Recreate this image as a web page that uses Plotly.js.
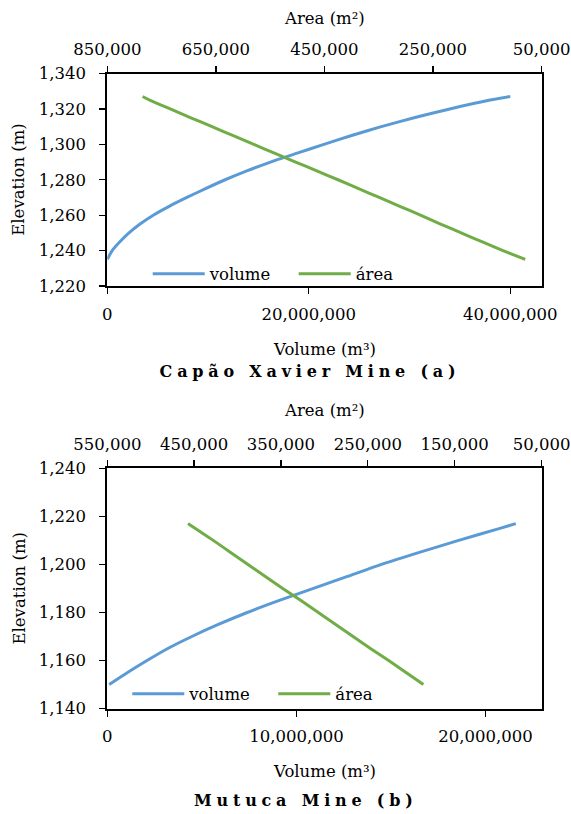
<!DOCTYPE html>
<html>
<head>
<meta charset="utf-8">
<script src="https://cdn.plot.ly/plotly-3.0.1.min.js"></script>
<style>
  html, body { margin: 0; padding: 0; background: #fff; }
  #chart { width: 571px; height: 814px; }
</style>
</head>
<body>
<div id="chart"></div>
<script>
// ---- Capão Xavier Mine (a) ----
const capaoElevation = [1235, 1240, 1245, 1250, 1255, 1260, 1265, 1270, 1275, 1280, 1285, 1290, 1295, 1300, 1305, 1310, 1315, 1320, 1325, 1327];
const capaoVolume = [0, 480000, 1250000, 2150000, 3250000, 4560000, 6140000, 7900000, 9750000, 11700000, 13850000, 16200000, 18850000, 21500000, 24250000, 27200000, 30450000, 34000000, 38000000, 40000000];
const capaoArea = [80000, 121000, 160000, 198000, 236000, 273000, 311000, 349000, 387000, 425000, 464000, 503000, 542000, 580000, 619000, 657000, 696000, 734000, 772000, 785000];

// ---- Mutuca Mine (b) ----
const mutucaElevation = [1150, 1155, 1160, 1165, 1170, 1175, 1180, 1185, 1190, 1195, 1200, 1205, 1210, 1215, 1217];
const mutucaVolume = [100000, 1070000, 2100000, 3200000, 4470000, 5870000, 7400000, 9100000, 10900000, 12700000, 14500000, 16500000, 18580000, 20760000, 21600000];
const mutucaArea = [186000, 206000, 226000, 247000, 267000, 287000, 307000, 327000, 348000, 368000, 388000, 408000, 428000, 449000, 457000];

const seriesNames = ["volume", "área"];
const panelTitles = ["Capão Xavier Mine (a)", "Mutuca Mine (b)"];
const xTitleArea = "Area (m²)";
const xTitleVolume = "Volume (m³)";
const yTitle = "Elevation (m)";

const W = 571, H = 814;
const FONT = "DejaVu Serif";
const FS = 16.5;
const BLUE = "#5B9BD5", GREEN = "#70AD47";

const px = v => v / W;
const py = v => 1 - v / H;

const lineStyle = c => ({color: c, width: 3, shape: "spline", smoothing: 0.6});

const traces = [
  {x: capaoVolume, y: capaoElevation, name: seriesNames[0], type: "scatter", mode: "lines",
   line: lineStyle(BLUE), xaxis: "x", yaxis: "y", legend: "legend"},
  {x: capaoArea, y: capaoElevation, name: seriesNames[1], type: "scatter", mode: "lines",
   line: lineStyle(GREEN), xaxis: "x2", yaxis: "y", legend: "legend"},
  {x: mutucaVolume, y: mutucaElevation, name: seriesNames[0], type: "scatter", mode: "lines",
   line: lineStyle(BLUE), xaxis: "x3", yaxis: "y2", legend: "legend2"},
  {x: mutucaArea, y: mutucaElevation, name: seriesNames[1], type: "scatter", mode: "lines",
   line: lineStyle(GREEN), xaxis: "x4", yaxis: "y2", legend: "legend2"}
];

const xd = [px(107.3), px(541.5)];
const yd1 = [py(286), py(73.5)];
const yd2 = [py(708.6), py(468.3)];

const axBase = {
  showgrid: false, zeroline: false, showline: true, linecolor: "#000", linewidth: 2,
  ticks: "outside", ticklen: 6, tickwidth: 1.3, tickcolor: "#000",
  tickfont: {family: FONT, size: FS, color: "#000"}, tickformat: ",", automargin: false,
  fixedrange: true
};

const legBase = {
  orientation: "h", xanchor: "left", yanchor: "middle", bgcolor: "rgba(0,0,0,0)",
  borderwidth: 0, font: {family: FONT, size: FS, color: "#000"},
  itemwidth: 52, entrywidth: 79, entrywidthmode: "pixels", tracegroupgap: 0
};

const ann = (text, x, y, opts = {}) => Object.assign({
  text, x, y, xref: "paper", yref: "paper", showarrow: false,
  xanchor: "center", yanchor: "middle",
  font: {family: FONT, size: FS, color: "#000"}
}, opts);

const titleFont = {family: FONT, size: 16, color: "#000", weight: "bold"};

const layout = {
  width: W, height: H,
  margin: {l: 0, r: 0, t: 0, b: 0, pad: 0},
  paper_bgcolor: "#fff", plot_bgcolor: "#fff",
  showlegend: true,
  xaxis: Object.assign({}, axBase, {domain: xd, anchor: "y", range: [0, 43.1e6], tick0: 0, dtick: 20e6, ticklabelstandoff: 6}),
  xaxis2: Object.assign({}, axBase, {overlaying: "x", anchor: "y", side: "top", range: [850000, 50000], tick0: 50000, dtick: 200000, ticklabelstandoff: 4}),
  yaxis: Object.assign({}, axBase, {domain: yd1, anchor: "x", range: [1220, 1340], tick0: 1220, dtick: 20, mirror: true, ticklabelstandoff: 10}),
  xaxis3: Object.assign({}, axBase, {domain: xd, anchor: "y2", range: [0, 22.96e6], tick0: 0, dtick: 10e6, ticklabelstandoff: 6}),
  xaxis4: Object.assign({}, axBase, {overlaying: "x3", anchor: "y2", side: "top", range: [550000, 50000], tick0: 50000, dtick: 100000, ticklabelstandoff: 4}),
  yaxis2: Object.assign({}, axBase, {domain: yd2, anchor: "x3", range: [1140, 1240], tick0: 1140, dtick: 20, mirror: true, ticklabelstandoff: 10}),
  legend: Object.assign({}, legBase, {x: px(147.7), y: py(274)}),
  legend2: Object.assign({}, legBase, {x: px(127.3), y: py(694)}),
  annotations: [
    ann(xTitleArea, px(324.4), py(19)),
    ann(xTitleVolume, px(324.4), py(350)),
    ann(panelTitles[0], px(310), py(371), {font: titleFont}),
    ann(yTitle, px(19), py(179.7), {textangle: -90}),
    ann(xTitleArea, px(324.4), py(410)),
    ann(xTitleVolume, px(324.4), py(771)),
    ann(panelTitles[1], px(306), py(800), {font: titleFont}),
    ann(yTitle, px(19), py(588.5), {textangle: -90})
  ]
};

Plotly.newPlot("chart", traces, layout, {displayModeBar: false, staticPlot: true}).then(() => {
  document.querySelectorAll("g.annotation text.annotation-text").forEach(t => {
    if (panelTitles.includes(t.textContent)) {
      t.style.letterSpacing = "4.8px";
      t.style.fontWeight = "bold";
    }
  });
});
</script>
</body>
</html>
